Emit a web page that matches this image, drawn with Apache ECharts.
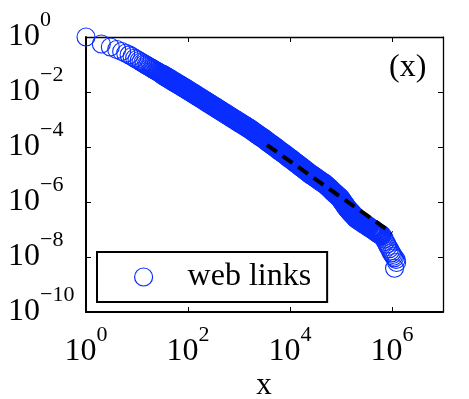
<!DOCTYPE html>
<html><head><meta charset="utf-8">
<script src="https://cdn.jsdelivr.net/npm/echarts@6/dist/echarts.min.js"></script>
<style>html,body{margin:0;padding:0;background:#fff}#c{width:469px;height:399px}</style>
</head><body><div id="c"></div>
<script>
// ---- data (log10 of values) ----
const seriesName = 'web links';
const panelTag = '(x)';
const xAxisTitle = 'x';
const xTickExponents = [0, 2, 4, 6];
const yTickExponents = [-10, -8, -6, -4, -2, 0];

// first integer degrees 1..30
const lowLogX = [0,0.301,0.477,0.602,0.699,0.778,0.845,0.903,0.954,1.0,1.041,1.079,1.114,1.146,1.176,1.204,1.230,1.255,1.279,1.301,1.322,1.342,1.362,1.380,1.398,1.415,1.431,1.447,1.462,1.477];
const lowLogY = [0,-0.255,-0.364,-0.455,-0.527,-0.59,-0.65,-0.71,-0.77,-0.82,-0.865,-0.907,-0.945,-0.981,-1.014,-1.044,-1.073,-1.101,-1.127,-1.151,-1.174,-1.196,-1.218,-1.238,-1.258,-1.277,-1.294,-1.312,-1.328,-1.345];

// dense band
const bandLogX = [1.50,1.53,1.56,1.59,1.62,1.65,1.68,1.71,1.74,1.77,1.80,1.83,1.86,1.89,1.92,1.95,1.98,2.01,2.04,2.07,2.10,2.13,2.16,2.19,2.22,2.25,2.28,2.31,2.34,2.37,2.40,2.43,2.46,2.49,2.52,2.55,2.58,2.61,2.64,2.67,2.70,2.73,2.76,2.79,2.82,2.85,2.88,2.91,2.94,2.97,3.00,3.03,3.06,3.09,3.12,3.15,3.18,3.21,3.24,3.27,3.30,3.33,3.36,3.39,3.42,3.45,3.48,3.51,3.54,3.57,3.60,3.63,3.66,3.69,3.72,3.75,3.78,3.81,3.84,3.87,3.90,3.93,3.96,3.99,4.02,4.05,4.08,4.11,4.14,4.17,4.20,4.23,4.26,4.29,4.32,4.35,4.38,4.41,4.44,4.47,4.50,4.53,4.56,4.59,4.62,4.65,4.68,4.71,4.74,4.77,4.80,4.83,4.86,4.89,4.92,4.95,4.98,
  4.995,5.010,5.025,5.040,5.055,5.070,5.085,5.100,5.115,5.130,5.145,5.160,5.175,5.190,5.205,5.220,5.235,5.250,5.265,5.280,5.295,5.310,
  5.34,5.37,5.40,5.43,5.46,5.49,5.52,5.55,5.59,5.62,5.65,5.68,5.71,5.74,5.77,5.80];
const bandLogY = [-1.37,-1.40,-1.44,-1.47,-1.50,-1.54,-1.57,-1.61,-1.64,-1.67,-1.71,-1.74,-1.77,-1.81,-1.84,-1.87,-1.91,-1.94,-1.98,-2.01,-2.05,-2.08,-2.12,-2.15,-2.19,-2.22,-2.26,-2.29,-2.33,-2.36,-2.40,-2.43,-2.47,-2.50,-2.54,-2.57,-2.61,-2.64,-2.68,-2.71,-2.75,-2.78,-2.82,-2.85,-2.89,-2.92,-2.96,-2.99,-3.03,-3.06,-3.10,-3.13,-3.17,-3.20,-3.24,-3.27,-3.31,-3.34,-3.38,-3.42,-3.46,-3.50,-3.54,-3.58,-3.62,-3.65,-3.69,-3.73,-3.78,-3.82,-3.86,-3.90,-3.94,-3.98,-4.02,-4.06,-4.11,-4.15,-4.19,-4.23,-4.27,-4.31,-4.36,-4.40,-4.44,-4.48,-4.53,-4.57,-4.61,-4.65,-4.70,-4.74,-4.78,-4.83,-4.87,-4.91,-4.96,-5.00,-5.03,-5.07,-5.11,-5.15,-5.19,-5.23,-5.27,-5.30,-5.34,-5.39,-5.44,-5.49,-5.54,-5.60,-5.65,-5.70,-5.75,-5.80,-5.85,
  -5.89,-5.93,-5.97,-6.01,-6.05,-6.09,-6.13,-6.17,-6.21,-6.24,-6.28,-6.31,-6.34,-6.37,-6.40,-6.43,-6.46,-6.49,-6.52,-6.55,-6.58,-6.61,
  -6.65,-6.69,-6.72,-6.76,-6.80,-6.83,-6.87,-6.91,-6.96,-6.99,-7.03,-7.07,-7.11,-7.15,-7.18,-7.22];

// sparse tail
const tailLogX = [5.83,5.85,5.87,5.90,5.92,5.95,5.97,5.99,6.01,6.03,6.05,6.08,6.09,6.05];
const tailLogY = [-7.28,-7.35,-7.44,-7.53,-7.62,-7.70,-7.78,-7.85,-7.91,-7.97,-8.03,-8.09,-8.20,-8.41];

// dashed power-law fit
const fitLogX = [3.55, 6.0];
const fitLogY = [-3.93, -7.13];

// ---- build ----
const BLUE = '#0a2dff';
const serif = '"Liberation Serif","Times New Roman",serif';
const toPts = (lx, ly) => lx.map((v, i) => [Math.pow(10, v), Math.pow(10, ly[i])]);
const sparsePts = toPts(lowLogX, lowLogY).concat(toPts(tailLogX, tailLogY));
const bandPts = toPts(bandLogX, bandLogY);
const fitPts = toPts(fitLogX, fitLogY);

const rich = {
  b: {fontFamily: serif, fontSize: 32, lineHeight: 32, color: '#000', verticalAlign: 'middle'},
  s: {fontFamily: serif, fontSize: 22, lineHeight: 22, color: '#000', verticalAlign: 'middle', padding: [0, 0, 33, 0]}
};
function fmt(list) {
  return function (v) {
    const e = Math.round(Math.log10(v));
    if (list.indexOf(e) < 0) return '';
    return '{b|10}{s|' + (e < 0 ? '\u2212' + (-e) : String(e)) + '}';
  };
}
const tickCommon = {show: true, inside: true, length: 5, lineStyle: {color: '#000', width: 1}};
const circleStyle = (w) => ({color: 'rgba(0,0,0,0)', borderColor: BLUE, borderWidth: w, opacity: 1});

const chart = echarts.init(document.getElementById('c'), null, {renderer: 'canvas'});
chart.setOption({
  animation: false,
  backgroundColor: '#fff',
  grid: {left: 86, top: 37, width: 357, height: 275, containLabel: false},
  xAxis: [{
    type: 'log', logBase: 10, min: 1, max: 1e7, interval: 2, position: 'bottom',
    axisLine: {show: true, onZero: false, lineStyle: {color: '#000', width: 2}},
    axisTick: tickCommon, minorTick: {show: false}, splitLine: {show: false},
    axisLabel: {show: true, margin: 24, formatter: fmt(xTickExponents), rich: rich, hideOverlap: false}
  }, {
    type: 'log', logBase: 10, min: 1, max: 1e7, interval: 2, position: 'top',
    axisLine: {show: true, onZero: false, lineStyle: {color: '#000', width: 1.3}},
    axisTick: tickCommon, minorTick: {show: false}, splitLine: {show: false}, axisLabel: {show: false}
  }],
  yAxis: [{
    type: 'log', logBase: 10, min: 1e-10, max: 1, interval: 2, position: 'left',
    axisLine: {show: true, onZero: false, lineStyle: {color: '#000', width: 2}},
    axisTick: tickCommon, minorTick: {show: false}, splitLine: {show: false},
    axisLabel: {show: true, margin: 78, align: 'left', formatter: fmt(yTickExponents), rich: rich, hideOverlap: false}
  }, {
    type: 'log', logBase: 10, min: 1e-10, max: 1, interval: 2, position: 'right',
    axisLine: {show: true, onZero: false, lineStyle: {color: '#000', width: 1.3}},
    axisTick: tickCommon, minorTick: {show: false}, splitLine: {show: false}, axisLabel: {show: false}
  }],
  legend: {
    left: 97, top: 252, orient: 'horizontal',
    padding: [9, 16, 9, 37],
    borderColor: '#000', borderWidth: 2, borderRadius: 0, backgroundColor: '#fff',
    itemWidth: 18, itemHeight: 18, itemGap: 0, selectedMode: false,
    textStyle: {fontFamily: serif, fontSize: 32, color: '#000', padding: [0, 0, 0, 30]},
    data: [{name: seriesName, icon: 'circle', itemStyle: circleStyle(1.2)}]
  },
  graphic: [
    {type: 'text', x: 389, y: 68, style: {text: panelTag, font: '32px "Liberation Serif"', fill: '#000', align: 'left', verticalAlign: 'middle'}},
    {type: 'text', x: 264, y: 386, style: {text: xAxisTitle, font: '31px "Liberation Serif"', fill: '#000', align: 'center', verticalAlign: 'middle'}}
  ],
  series: [{
    type: 'scatter', name: seriesName, data: sparsePts, xAxisIndex: 0, yAxisIndex: 0,
    symbol: 'circle', symbolSize: 18, large: false, progressive: 0, clip: false, silent: true,
    itemStyle: circleStyle(1.1), emphasis: {disabled: true}, z: 2
  }, {
    type: 'scatter', name: seriesName, data: bandPts, xAxisIndex: 0, yAxisIndex: 0,
    symbol: 'circle', symbolSize: 18, large: false, progressive: 0, clip: false, silent: true,
    itemStyle: circleStyle(2.2), emphasis: {disabled: true}, z: 2
  }, {
    type: 'line', name: 'fit', data: fitPts, xAxisIndex: 0, yAxisIndex: 0,
    showSymbol: false, symbol: 'none', silent: true,
    lineStyle: {color: '#000', width: 4, type: [12, 7], cap: 'butt'},
    emphasis: {disabled: true}, z: 3
  }]
});
</script>
</body></html>
